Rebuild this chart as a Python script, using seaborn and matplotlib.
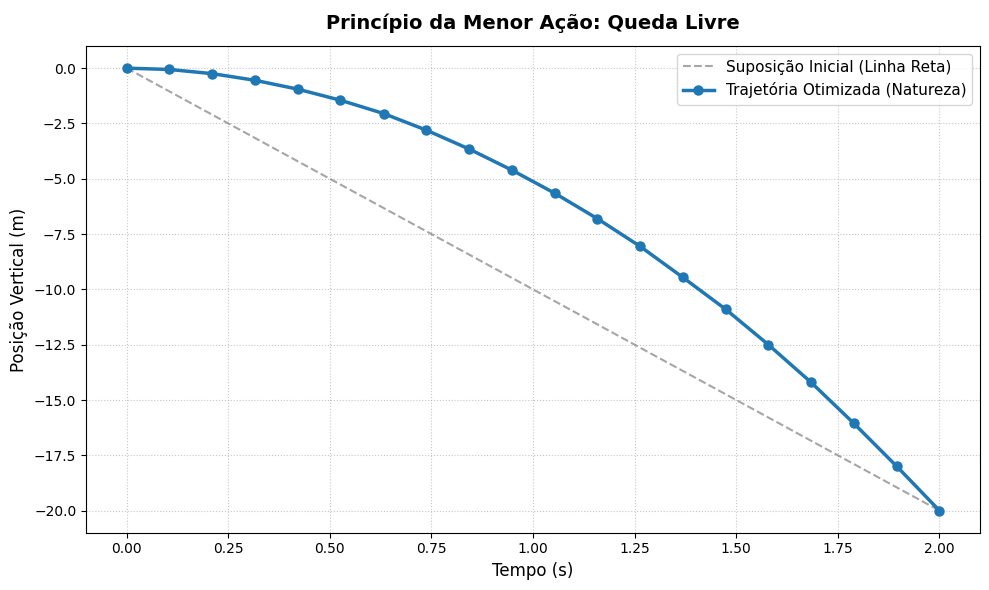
import matplotlib
matplotlib.use("Agg")
import matplotlib.pyplot as plt
import seaborn as sns
import pandas as pd

# valores
tempo = [0.0, 0.105, 0.211, 0.316, 0.421, 0.526, 0.632, 0.737, 0.842, 0.947,
         1.053, 1.158, 1.263, 1.368, 1.474, 1.579, 1.684, 1.789, 1.895, 2.0]
posicao = [0.0, -0.06, -0.25, -0.55, -0.95, -1.45, -2.05, -2.8, -3.65, -4.6,
           -5.65, -6.8, -8.05, -9.45, -10.9, -12.5, -14.2, -16.05, -18.0, -20.0]

tempo_reta = [0.0, 2.0]
posicao_reta = [0.0, -20.0]

df = pd.DataFrame({'t': tempo, 'y': posicao})
df_reta = pd.DataFrame({'t': tempo_reta, 'y': posicao_reta})

fig, ax = plt.subplots(figsize=(9.89, 5.9), dpi=100)

sns.lineplot(data=df_reta, x='t', y='y', ax=ax, color='gray', linestyle='--',
             alpha=0.7, linewidth=1.5, label='Suposição Inicial (Linha Reta)')
sns.lineplot(data=df, x='t', y='y', ax=ax, color='#1f77b4', marker='o',
             markersize=6.5, markeredgecolor='#1f77b4', markeredgewidth=1,
             linewidth=2.5, label='Trajetória Otimizada (Natureza)')

ax.set_title('Princípio da Menor Ação: Queda Livre', fontsize=14,
             fontweight='bold', pad=12)
ax.set_xlabel('Tempo (s)', fontsize=12)
ax.set_ylabel('Posição Vertical (m)', fontsize=12)
ax.grid(True, linestyle=':', alpha=0.7)
ax.legend(fontsize=11, loc='upper right')

plt.subplots_adjust(left=0.087, right=0.991, top=0.922, bottom=0.097)
plt.savefig('out.png', dpi=100)
